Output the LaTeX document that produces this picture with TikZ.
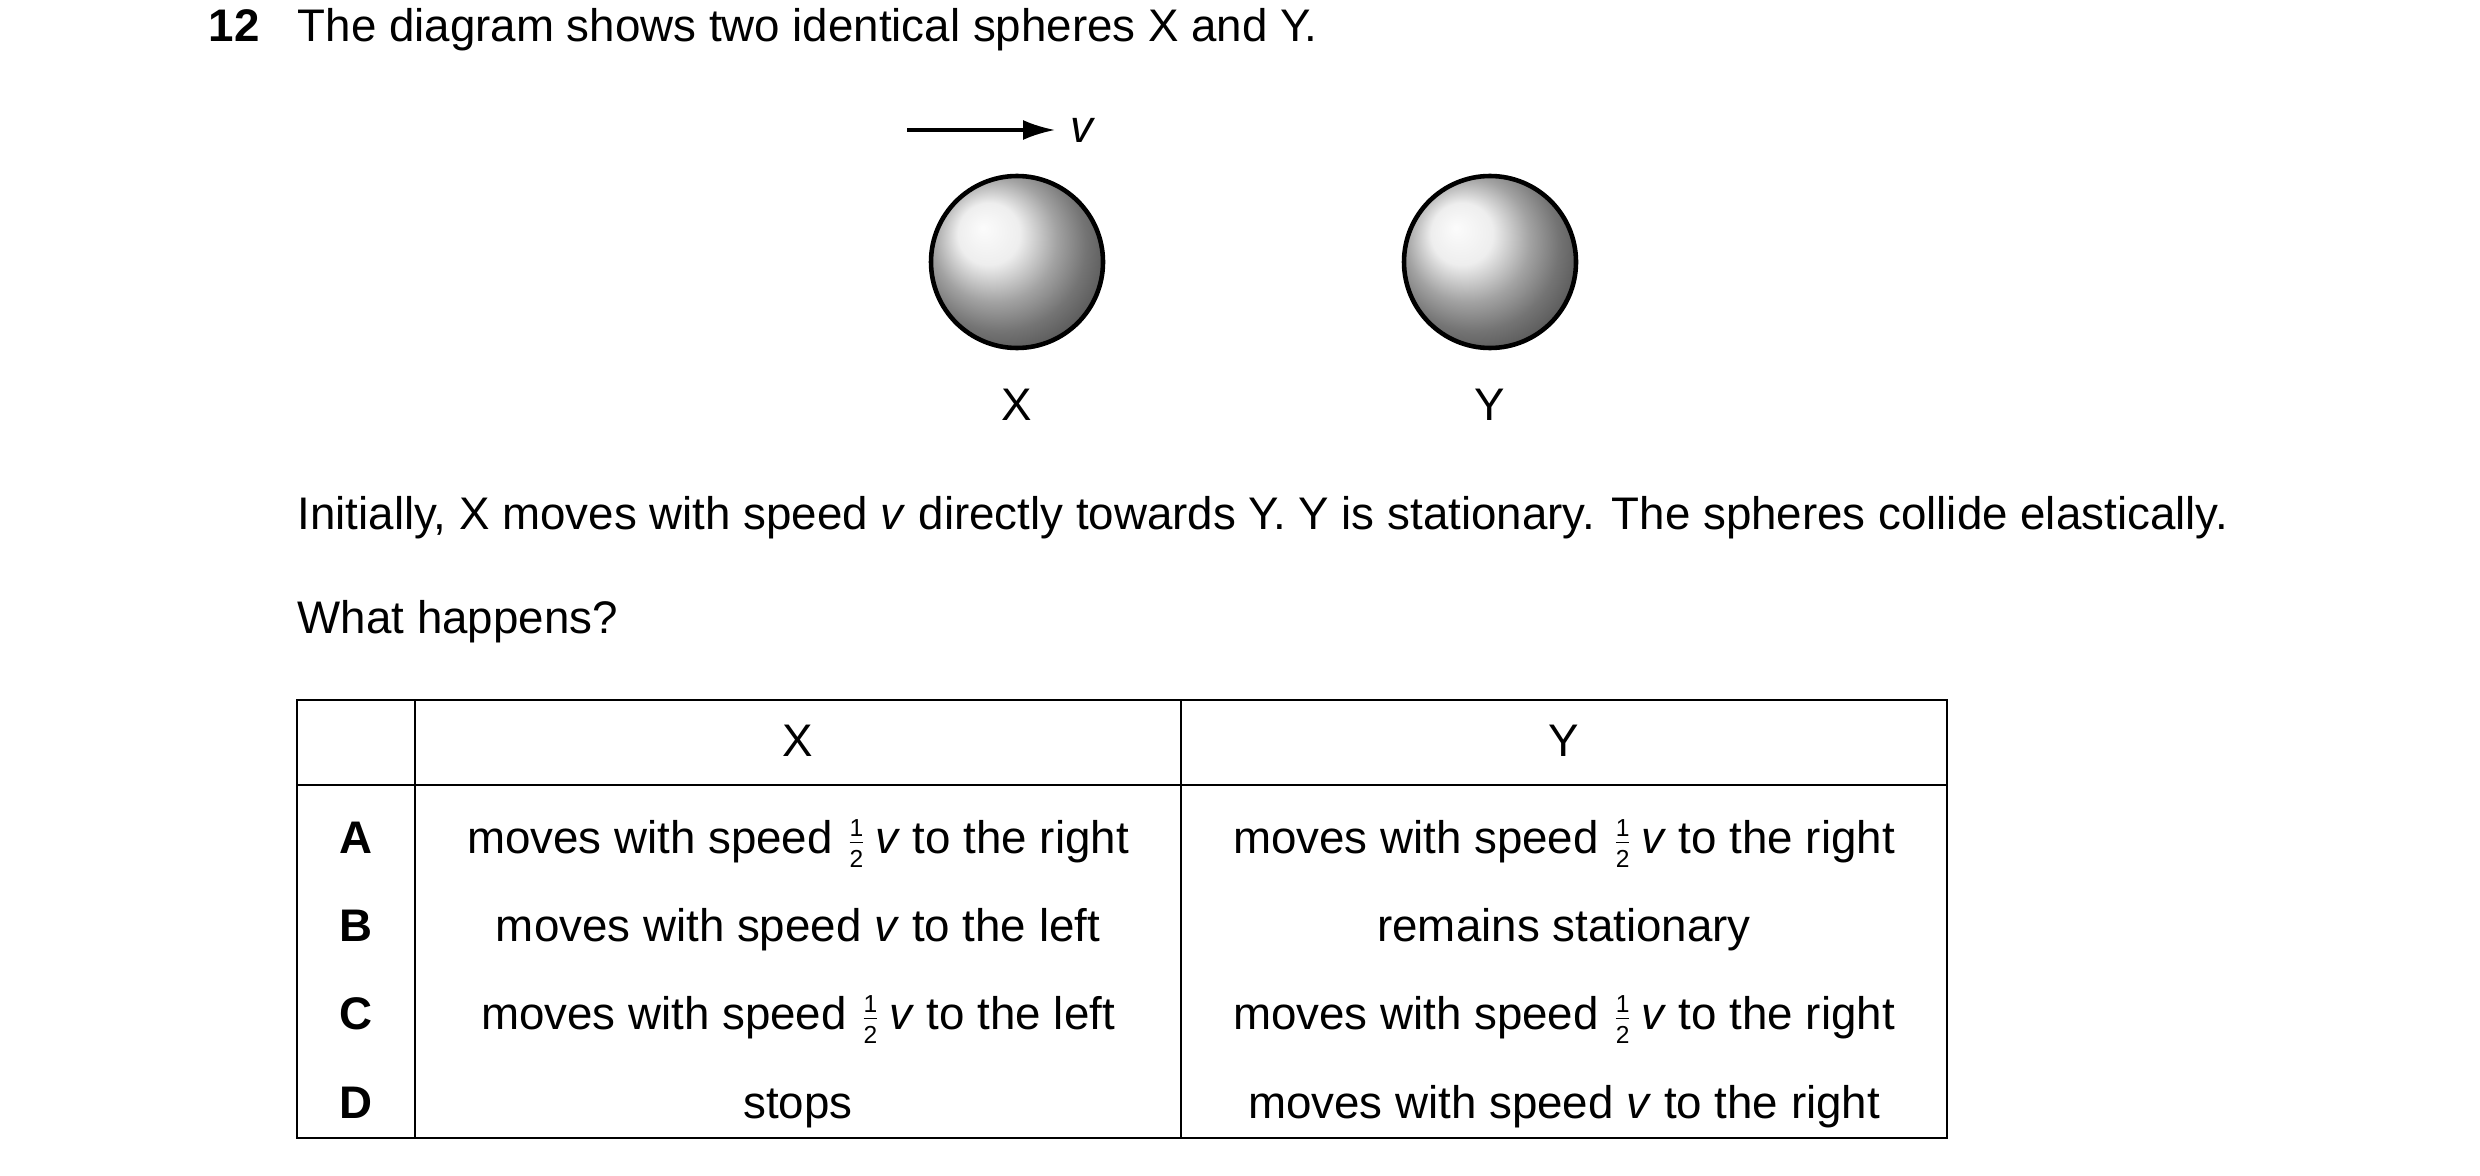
\documentclass[tikz,border=0pt]{standalone}
\usepackage{fontspec}
\setmainfont{Liberation Sans}
\usetikzlibrary{arrows.meta}
\newcommand{\hf}{\ensuremath{\frac{\mbox{\fontsize{7}{7}\selectfont 1}}{\mbox{\fontsize{7}{7}\selectfont 2}}}}
\tikzset{
  txt/.style={font=\fontsize{13}{15}\selectfont, inner sep=0pt},
  ball/.style={circle, draw=black, line width=1.3pt, shading=ball, ball color=gray!18, minimum size=1.72cm, inner sep=0pt},
  cell/.style={txt, anchor=base}
}
\begin{document}
\begin{tikzpicture}
\useasboundingbox (0,0) rectangle (24.8,-11.75);
% question
\node (num) [txt, anchor=base west] at (2.08,-0.42) {\textbf{12}};
\node (q) [txt, anchor=base west] at (2.97,-0.42) {The diagram shows two identical spheres X and Y.};

% spheres
\node (X) [ball] at (10.17,-2.62) {};
\node (Y) [ball] at (14.90,-2.62) {};
\node (lx) [txt, anchor=base] at (10.17,-4.2) {X};
\node (ly) [txt, anchor=base] at (14.90,-4.2) {Y};
\coordinate (a0) at (9.07,-1.30);
\coordinate (a1) at (10.55,-1.30);
\draw [-{Latex[length=3.2mm,width=2mm]}, line width=0.9pt] (a0) -- (a1);
\node (v) [txt, anchor=west] at (10.70,-1.30) {\textit{v}};

\node (t1) [txt, anchor=base west] at (2.97,-5.29) {Initially, X moves with speed \textit{v} directly towards Y. Y is stationary. The spheres collide elastically.};
\node (t2) [txt, anchor=base west] at (2.97,-6.33) {What happens?};

% table
\draw [line width=0.8pt] (2.97,-7.00) rectangle (19.47,-11.38);
\draw [line width=0.8pt] (2.97,-7.85) -- (19.47,-7.85);
\draw [line width=0.8pt] (4.15,-7.00) -- (4.15,-11.38);
\draw [line width=0.8pt] (11.81,-7.00) -- (11.81,-11.38);

\node (hx) [cell] at (7.98,-7.56) {X};
\node (hy) [cell] at (15.64,-7.56) {Y};

\foreach \k/\y/\a/\b in {
  A/-8.53/{moves with speed \hf\,\textit{v} to the right}/{moves with speed \hf\,\textit{v} to the right},
  B/-9.41/{moves with speed \textit{v} to the left}/{remains stationary},
  C/-10.29/{moves with speed \hf\,\textit{v} to the left}/{moves with speed \hf\,\textit{v} to the right},
  D/-11.18/{stops}/{moves with speed \textit{v} to the right}}{
  \node (k\k) [cell] at (3.56,\y) {\textbf{\k}};
  \node (x\k) [cell] at (7.98,\y) {\a};
  \node (y\k) [cell] at (15.64,\y) {\b};
}
\end{tikzpicture}
\end{document}
